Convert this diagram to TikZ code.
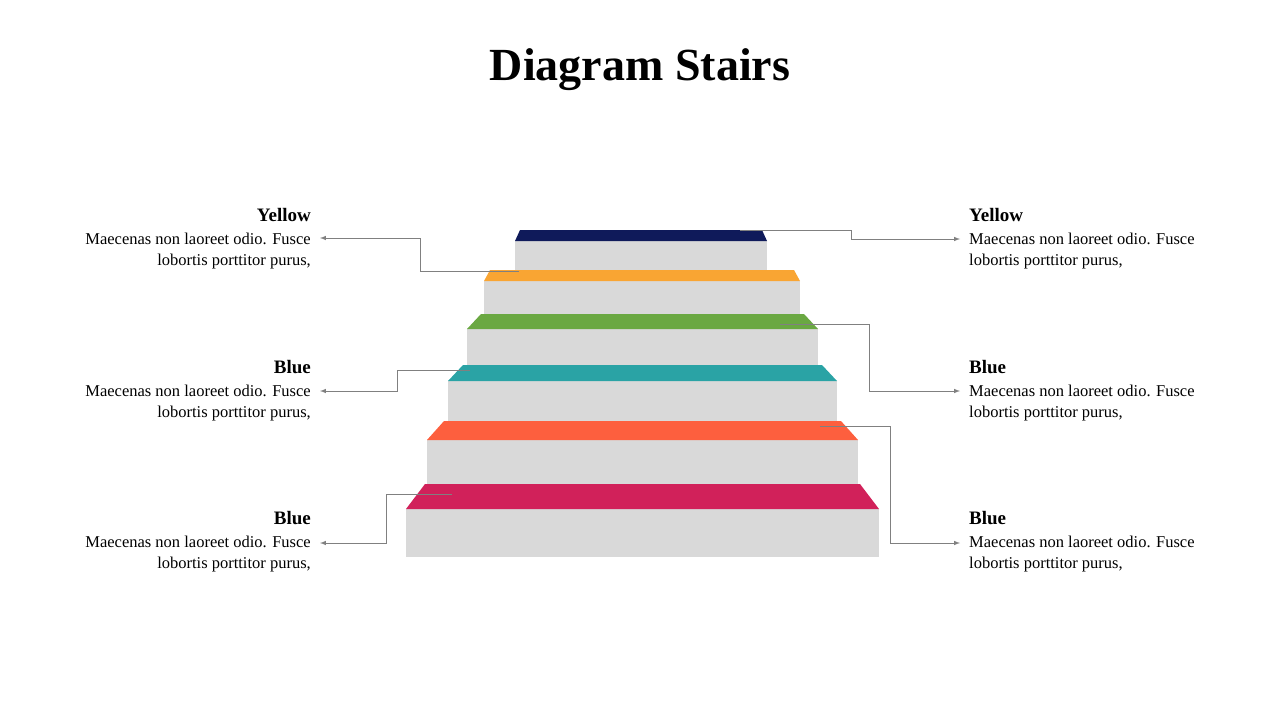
\documentclass[tikz,border=0pt]{standalone}
\usepackage{fontspec}
\setmainfont{Liberation Serif}
\definecolor{cnavy}{HTML}{0F1A5A}
\definecolor{corange}{HTML}{F9A533}
\definecolor{cgreen}{HTML}{6AA842}
\definecolor{cteal}{HTML}{2AA3A5}
\definecolor{cred}{HTML}{FD5F3E}
\definecolor{ccrimson}{HTML}{D1215A}
\definecolor{cgray}{HTML}{D9D9D9}
\tikzset{
  head/.style={font=\bfseries\fontsize{19}{22}\selectfont, inner sep=0pt},
  body/.style={font=\fontsize{16.5}{20.5}\selectfont, inner sep=0pt, align=#1},
  link/.style={draw=gray, line width=1pt, -latex},
}
\begin{document}
\begin{tikzpicture}[x=1pt,y=-1pt]
\useasboundingbox (0,0) rectangle (1280,720);
\node[font=\bfseries\fontsize{46}{50}\selectfont] (title) at (640,70) {Diagram Stairs};

% steps: top y, band bottom, gray bottom, top-left x, top-right x, left x, right x, colour
\foreach \t/\m/\b/\tl/\tr/\l/\r/\c in {
  230/241/270/520/762/515/767/cnavy,
  270/281/314/490/794/484/800/corange,
  314/329/365/481/804/467/818/cgreen,
  365/381/421/463/822/448/837/cteal,
  421/440/484/444/841/427/858/cred,
  484/509/557/425/860/406/879/ccrimson}{
  \fill[cgray] (\l,\m) rectangle (\r,\b);
  \fill[\c] (\tl,\t) -- (\tr,\t) -- (\r,\m) -- (\l,\m) -- cycle;
}

% texts
\foreach \n/\y/\h in {1/215/Yellow,2/367/Blue,3/518/Blue}{
  \node[head, anchor=east] (lh\n) at (311,\y) {\h};
  \node[body=right, anchor=north east] (lt\n) at (311,\y+18) {Maecenas non laoreet odio. Fusce\\lobortis porttitor purus,};
  \node[head, anchor=west] (rh\n) at (969,\y) {\h};
  \node[body=left, anchor=north west] (rt\n) at (969,\y+18) {Maecenas non laoreet odio. Fusce\\lobortis porttitor purus,};
}

% connectors
\coordinate (ls1) at (519,271); \coordinate (le1) at (320,238);
\coordinate (rs1) at (740,230); \coordinate (re1) at (960,239);
\coordinate (ls2) at (470,370); \coordinate (le2) at (320,391);
\coordinate (rs2) at (780,324); \coordinate (re2) at (960,391);
\coordinate (ls3) at (452,494); \coordinate (le3) at (320,543);
\coordinate (rs3) at (820,426); \coordinate (re3) at (960,543);
\draw[link] (ls1) -- (420,271) -- (420,238) -- (le1);
\draw[link] (rs1) -- (851,230) -- (851,239) -- (re1);
\draw[link] (ls2) -- (397,370) -- (397,391) -- (le2);
\draw[link] (rs2) -- (869,324) -- (869,391) -- (re2);
\draw[link] (ls3) -- (386,494) -- (386,543) -- (le3);
\draw[link] (rs3) -- (890,426) -- (890,543) -- (re3);
\end{tikzpicture}
\end{document}
